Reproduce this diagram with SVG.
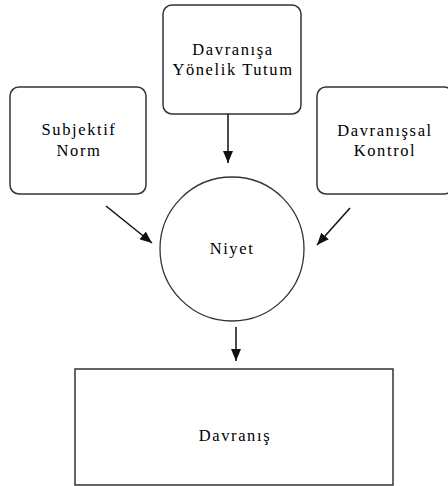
<svg xmlns="http://www.w3.org/2000/svg" width="448" height="486" viewBox="0 0 448 486">
<defs>
<style>
.box{fill:#fff;stroke:#333;stroke-width:1.5}
.t{font-family:'Liberation Serif','Times New Roman',serif;font-size:16.5px;letter-spacing:1.6px;fill:#000;text-anchor:middle}
.c{stroke:#111;stroke-width:1.5;fill:none}
</style>
<marker id="ah" viewBox="0 0 12 10" markerWidth="12" markerHeight="10" refX="12" refY="5" orient="auto" markerUnits="userSpaceOnUse">
<path d="M0,0 L12,5 L0,10 z" fill="#111"/>
</marker>
</defs>
<rect width="448" height="486" fill="#fff"/>
<g id="tutum">
<rect class="box" x="163" y="5" width="138" height="109" rx="9"/>
<text class="t" x="233" y="55">Davranışa</text>
<text class="t" x="233" y="75">Yönelik Tutum</text>
</g>
<g id="norm">
<rect class="box" x="10" y="87" width="136" height="107" rx="9"/>
<text class="t" x="79" y="135">Subjektif</text>
<text class="t" x="79" y="156">Norm</text>
</g>
<g id="kontrol">
<rect class="box" x="317" y="87" width="136" height="107" rx="9"/>
<text class="t" x="385" y="136">Davranışsal</text>
<text class="t" x="385" y="156">Kontrol</text>
</g>
<g id="niyet">
<circle class="box" cx="232" cy="249" r="72" style="stroke-width:1.3"/>
<text class="t" x="232" y="254">Niyet</text>
</g>
<g id="davranis">
<rect class="box" x="75" y="369" width="318" height="116"/>
<text class="t" x="235" y="441">Davranış</text>
</g>
<g id="connectors">
<line class="c" x1="228" y1="114" x2="228" y2="163" marker-end="url(#ah)"/>
<line class="c" x1="106" y1="206" x2="152" y2="243" marker-end="url(#ah)"/>
<line class="c" x1="350" y1="208" x2="317" y2="245" marker-end="url(#ah)"/>
<line class="c" x1="236" y1="327" x2="236" y2="361" marker-end="url(#ah)"/>
</g>
</svg>
